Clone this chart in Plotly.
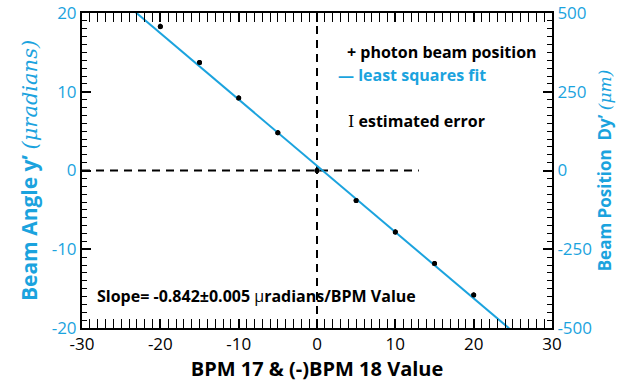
import plotly.graph_objects as go

# BPM reading (BPM 17 & inverted BPM 18) and measured photon beam angle
bpm_value = [-20, -15, -10, -5, 0, 5, 10, 15, 20]
beam_angle = [18.3, 13.7, 9.2, 4.8, 0.0, -3.8, -7.8, -11.8, -15.8]
angle_error = [0.35, 0.3, 0.3, 0.3, 0.35, 0.3, 0.3, 0.3, 0.3]

# least squares fit result (slope in microradians per BPM value)
fit_slope = -0.842
fit_intercept = 0.6
fit_x = [-24, 26]

x_ticks = [-30, -20, -10, 0, 10, 20, 30]
y_ticks = [-20, -10, 0, 10, 20]
y2_ticks = [-500, -250, 0, 250, 500]

CYAN = "#1ba3de"
BASE_FONT = "Open Sans, Noto Sans, sans-serif"
SERIF = "DejaVu Serif, Liberation Serif, serif"


def labels(vals):
    # plain hyphen for negatives
    return [str(v) for v in vals]


fig = go.Figure()

# measured points with error bars
fig.add_trace(go.Scatter(x=bpm_value, y=beam_angle, mode="markers",
                         marker=dict(color="black", size=5, symbol="circle"),
                         error_y=dict(type="data", array=angle_error, color="black",
                                      thickness=1.5, width=0),
                         showlegend=False))

# reference cross-hair through the origin
fig.add_trace(go.Scatter(x=[-30, 13], y=[0, 0], mode="lines",
                         line=dict(color="black", width=2, dash="8px,6px"),
                         hoverinfo="skip", showlegend=False))
fig.add_trace(go.Scatter(x=[0, 0], y=[-20, 20], mode="lines",
                         line=dict(color="black", width=2, dash="8px,6px"),
                         hoverinfo="skip", showlegend=False))

# fitted line
fig.add_trace(go.Scatter(x=fit_x, y=[fit_slope * v + fit_intercept for v in fit_x],
                         mode="lines", line=dict(color=CYAN, width=2),
                         showlegend=False))

# redraw points above the fit line
fig.add_trace(go.Scatter(x=bpm_value, y=beam_angle, mode="markers",
                         marker=dict(color="black", size=5, symbol="circle"),
                         showlegend=False, hoverinfo="skip"))

# empty trace to activate the right-hand axis
fig.add_trace(go.Scatter(x=[None], y=[None], yaxis="y2", showlegend=False))


def axis(rng, vals, minor_dtick, **kw):
    return dict(range=rng, tickmode="array", tickvals=vals, ticktext=labels(vals),
                ticks="inside", ticklen=9, tickwidth=1.5, tickcolor="black",
                showline=True, linecolor="black", linewidth=2,
                minor=dict(tickmode="linear", tick0=0, dtick=minor_dtick, ticks="inside",
                           ticklen=5, tickwidth=1.2, tickcolor="black"),
                **kw)


fig.update_layout(
    width=631, height=386,
    margin=dict(l=82, r=79, t=13, b=58, autoexpand=False),
    plot_bgcolor="white", paper_bgcolor="white",
    showlegend=False,
    xaxis=axis([-30, 30], x_ticks, 1, mirror="allticks",
               tickfont=dict(family=BASE_FONT, size=17, color="black"),
               title=dict(text="<b>BPM 17 &amp; (-)BPM 18 Value</b>",
                          font=dict(family=BASE_FONT, size=20, color="black"), standoff=2)),
    yaxis=axis([-20, 20], y_ticks, 1,
               tickfont=dict(family=BASE_FONT, size=17, color=CYAN),
               title=dict(text="<b>Beam Angle y’ </b><span style='font-family:" + SERIF +
                               "'><i>(μradians)</i></span>",
                          font=dict(family=BASE_FONT, size=21, color=CYAN), standoff=8)),
    yaxis2=axis([-500, 500], y2_ticks, 25, overlaying="y", side="right",
                tickfont=dict(family=BASE_FONT, size=17, color=CYAN),
                title=dict(text="<b>Beam Position  Dy’ </b><span style='font-family:" + SERIF +
                                "'><i>(μm)</i></span>",
                           font=dict(family=BASE_FONT, size=17, color=CYAN), standoff=8)),
)

# key and fit annotation, placed in pixel terms within the plot area
anns = [
    dict(px=345, py=52, text="<b>+ photon beam position</b>", color="black"),
    dict(px=336, py=75, text="<b>— least squares fit</b>", color=CYAN),
    dict(px=346, py=121, text="<span style='font-family:" + SERIF + "'>I</span>"
                              "<b> estimated error</b>", color="black"),
    dict(px=95, py=296, text="<b>Slope= -0.842±0.005 </b>μ<b>radians/BPM Value</b>",
         color="black"),
]
plot_l, plot_r, plot_t, plot_b = 82, 552, 13, 328
for a in anns:
    fig.add_annotation(
        x=(a["px"] - plot_l) / (plot_r - plot_l),
        y=(plot_b - a["py"]) / (plot_b - plot_t),
        xref="paper", yref="paper", xanchor="left", yanchor="middle",
        showarrow=False, text=a["text"],
        font=dict(size=16, color=a["color"], family=BASE_FONT),
    )

fig.write_html("out.html")
